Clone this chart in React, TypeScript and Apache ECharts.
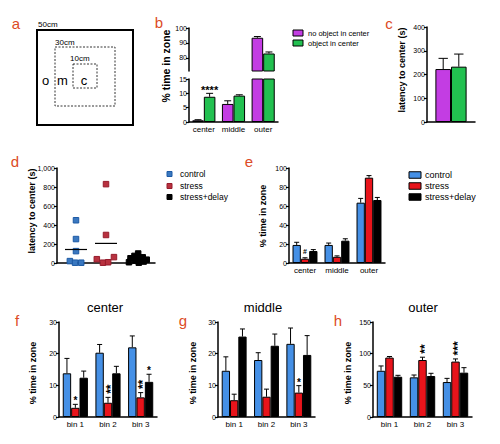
import React, { useEffect, useRef } from 'react';
import * as echarts from 'echarts';

const FONT = "'Liberation Sans', Arial, Helvetica, sans-serif";
const PANEL_LABEL_COLOR = '#dc4b26';

// ---------- panel b / c ----------
const zoneCategories = ['center', 'middle', 'outer'];
const bNoObject = [0.6, 6.3, 93.5];
const bNoObjectErr = [0.2, 1.1, 0.8];
const bObject = [8.8, 9.2, 83];
const bObjectErr = [1.2, 0.3, 1.0];
const bObjectStars = ['****', '', ''];
const bTopTicks = [80, 90, 100];
const bTopMin = 71.3;
const cNoObject = [223];
const cNoObjectErr = [45];
const cObject = [233];
const cObjectErr = [53];
const cCategory = [''];

// ---------- panel d ----------
const dGroupNames = ['control', 'stress', 'stress+delay'];
const dGroupX = [0.62, 1.6, 2.65];
const dControl = [450, 252, 125, 20, 3, 3];
const dControlJitter = [0, 0, 0, -0.2, -0.03, 0.17];
const dStress = [830, 295, 40, 3, 8, 62];
const dStressJitter = [0, 0, -0.3, -0.1, 0.07, 0.26];
const dDelay = [100, 75, 60, 50, 40, 35, 25, 15, 8, 3];
const dDelayJitter = [0, -0.12, 0.15, -0.25, 0.05, 0.28, -0.1, 0.18, -0.3, 0.02];

// ---------- panel e ----------
const eControl = [19, 19, 63.5];
const eControlErr = [2.8, 2, 4.5];
const eStress = [4.5, 6.5, 89.8];
const eStressErr = [1, 1, 2.2];
const eStressMarks = ['#', '', ''];
const eDelay = [12.6, 23.5, 66.3];
const eDelayErr = [1.5, 2, 2.7];

// ---------- panels f, g, h ----------
const bins = ['bin 1', 'bin 2', 'bin 3'];
const fControl = [13.8, 20.3, 22];
const fControlErr = [4.7, 2.6, 3.6];
const fStress = [2.9, 4.5, 6.2];
const fStressErr = [1.1, 1.7, 1.5];
const fStressStars = ['*', '**', '**'];
const fDelay = [12.4, 13.8, 11.1];
const fDelayErr = [2.1, 2.2, 2.4];
const fDelayStars = ['', '', '*'];

const gControl = [14.6, 18, 23.1];
const gControlErr = [4.4, 2.3, 5];
const gStress = [5.3, 6.4, 7.7];
const gStressErr = [1.9, 2.4, 2.2];
const gStressStars = ['', '', '*'];
const gDelay = [25.4, 22.5, 19.6];
const gDelayErr = [2.4, 3.7, 6.1];

const hControl = [73, 62.6, 55.2];
const hControlErr = [7.6, 3.7, 5.8];
const hStress = [93.8, 90, 87.5];
const hStressErr = [1.7, 4.4, 4.2];
const hStressStars = ['', '**', '***'];
const hDelay = [63.6, 64.7, 70];
const hDelayErr = [2.2, 4.3, 7.9];

const PURPLE = '#c33de3';
const GREEN = '#22c050';
const BLUE = '#4590e6';
const RED = '#e8141b';
const BLACK = '#000000';
const D_BLUE = '#3a78c0';
const D_BLUE_B = '#1d5aa5';
const D_RED = '#b8313f';
const D_RED_B = '#961c2c';

const mean = (a: number[]) => a.reduce((s, v) => s + v, 0) / a.length;

type BarSpec = {
  name: string;
  color: string;
  values: number[];
  errs: number[];
  stars?: string[];
  vertical?: boolean;
  starSize?: number;
};

type StarJob = {
  gi: number;
  ci: number;
  top: number;
  si: number;
  n: number;
  catGap: number;
  nCats: number;
  str: string;
  vertical: boolean;
  size: number;
};

const starJobs: StarJob[] = [];

function groupedBars(gi: number, specs: BarSpec[], catGap: number, nCats: number, minVisible?: number) {
  const n = specs.length;
  const series: any[] = [];
  specs.forEach((s) => {
    series.push({
      type: 'bar',
      name: s.name,
      xAxisIndex: gi,
      yAxisIndex: gi,
      data: s.values.map((v) => (minVisible != null && v < minVisible ? '-' : v)),
      barGap: '0%',
      barCategoryGap: `${catGap * 100}%`,
      itemStyle: { color: s.color, borderColor: '#000', borderWidth: 1 },
      silent: true,
      clip: true,
    });
  });
  specs.forEach((s, si) => {
    if (s.stars && minVisible == null) {
      s.stars.forEach((str, ci) => {
        if (str) {
          starJobs.push({
            gi, ci, top: s.values[ci] + s.errs[ci], si, n, catGap, nCats, str,
            vertical: !!s.vertical, size: s.starSize || 10,
          });
        }
      });
    }
    series.push({
      type: 'custom',
      xAxisIndex: gi,
      yAxisIndex: gi,
      clip: true,
      silent: true,
      z: 5,
      data: s.values.map((v, i) => [i, v, s.errs[i]]),
      renderItem: (params: any, api: any) => {
        const ci = api.value(0);
        const v = api.value(1);
        const e = api.value(2);
        if (minVisible != null && v < minVisible) return null;
        const band = api.size([1, 0])[0];
        const total = band * (1 - catGap);
        const bw = total / n;
        const p0 = api.coord([ci, v]);
        const p1 = api.coord([ci, v + e]);
        const x = p0[0] - total / 2 + bw * (si + 0.5);
        const cap = Math.max(2, bw * 0.3);
        const ls = { stroke: '#000', lineWidth: 1 };
        return {
          type: 'group',
          children: [
            { type: 'line', shape: { x1: x, y1: p0[1], x2: x, y2: p1[1] }, style: ls },
            { type: 'line', shape: { x1: x - cap, y1: p1[1], x2: x + cap, y2: p1[1] }, style: ls },
          ],
        };
      },
    });
  });
  return series;
}

const axisLineStyle = { color: '#000', width: 1.5 };

function yAxisV(gi: number, min: number, max: number, interval: number, extra: any = {}) {
  return {
    type: 'value',
    gridIndex: gi,
    min,
    max,
    interval,
    axisLine: { show: true, lineStyle: axisLineStyle },
    axisTick: { show: true, inside: false, length: 3, lineStyle: { color: '#000', width: 1.2 } },
    axisLabel: { show: true, fontSize: 7, color: '#000', fontFamily: FONT, margin: 2 },
    splitLine: { show: false },
    ...extra,
  };
}

function xAxisCat(gi: number, data: string[], show = true) {
  return {
    type: 'category',
    gridIndex: gi,
    data,
    boundaryGap: true,
    axisLine: { show, onZero: false, lineStyle: axisLineStyle },
    axisTick: { show: false },
    axisLabel: { show, interval: 0, hideOverlap: false, fontSize: 8, color: '#000', fontFamily: FONT, margin: 3 },
    splitLine: { show: false },
  };
}

function grid(left: number, top: number, width: number, height: number) {
  return { left, top, width, height, containLabel: false, outerBoundsMode: 'none' };
}

function txt(text: string, x: number, y: number, size: number, opt: any = {}) {
  return {
    type: 'text',
    x,
    y,
    rotation: opt.rotation || 0,
    silent: true,
    z: opt.z || 10,
    style: {
      text,
      x: 0,
      y: 0,
      fontSize: size,
      fontFamily: FONT,
      fontWeight: opt.bold ? 'bold' : 'normal',
      fill: opt.color || '#000',
      align: opt.align || 'center',
      verticalAlign: 'middle',
    },
  };
}

function legendRect(x: number, y: number, w: number, h: number, color: string, border = '#000') {
  return {
    type: 'rect',
    silent: true,
    shape: { x, y: y - h / 2, width: w, height: h },
    style: { fill: color, stroke: border, lineWidth: 1 },
  };
}

export default function App() {
  const ref = useRef<HTMLDivElement>(null);

  useEffect(() => {
    if (!ref.current) return;
    const chart = echarts.init(ref.current, undefined, { renderer: 'svg' });
    starJobs.length = 0;

    const grids = [
      grid(189, 28, 89, 43), // 0 b top
      grid(189, 79, 89, 43), // 1 b bottom
      grid(427, 27, 48, 95), // 2 c
      grid(57, 168, 98, 95), // 3 d
      grid(289, 168, 96, 95), // 4 e
      grid(59, 322, 98, 95), // 5 f
      grid(218, 322, 97, 95), // 6 g
      grid(373, 322, 99, 95), // 7 h
    ];

    const xAxes = [
      xAxisCat(0, zoneCategories, false),
      xAxisCat(1, zoneCategories, true),
      xAxisCat(2, cCategory, true),
      {
        type: 'value',
        gridIndex: 3,
        min: 0,
        max: 3.2,
        axisLine: { show: true, onZero: false, lineStyle: axisLineStyle },
        axisTick: { show: false },
        axisLabel: { show: false },
        splitLine: { show: false },
      },
      xAxisCat(4, zoneCategories, true),
      xAxisCat(5, bins, true),
      xAxisCat(6, bins, true),
      xAxisCat(7, bins, true),
    ];

    const yAxes = [
      yAxisV(0, bTopMin, 100, 10, {
        axisLabel: { show: true, fontSize: 7, color: '#000', fontFamily: FONT, margin: 2, customValues: bTopTicks },
        axisTick: { show: true, length: 3, lineStyle: { color: '#000', width: 1.2 }, customValues: bTopTicks },
      }),
      yAxisV(1, 0, 15, 5),
      yAxisV(2, 0, 400, 100),
      yAxisV(3, 0, 1000, 200),
      yAxisV(4, 0, 100, 20),
      yAxisV(5, 0, 30, 10),
      yAxisV(6, 0, 30, 10),
      yAxisV(7, 0, 150, 50),
    ];

    const bSpecs: BarSpec[] = [
      { name: 'no object in center', color: PURPLE, values: bNoObject, errs: bNoObjectErr },
      { name: 'object in center', color: GREEN, values: bObject, errs: bObjectErr, stars: bObjectStars, starSize: 11 },
    ];
    const cSpecs: BarSpec[] = [
      { name: 'no object in center', color: PURPLE, values: cNoObject, errs: cNoObjectErr },
      { name: 'object in center', color: GREEN, values: cObject, errs: cObjectErr },
    ];
    const eSpecs: BarSpec[] = [
      { name: 'control', color: BLUE, values: eControl, errs: eControlErr },
      { name: 'stress', color: RED, values: eStress, errs: eStressErr, stars: eStressMarks, starSize: 7 },
      { name: 'stress+delay', color: BLACK, values: eDelay, errs: eDelayErr },
    ];
    const fSpecs: BarSpec[] = [
      { name: 'control', color: BLUE, values: fControl, errs: fControlErr },
      { name: 'stress', color: RED, values: fStress, errs: fStressErr, stars: fStressStars, vertical: true },
      { name: 'stress+delay', color: BLACK, values: fDelay, errs: fDelayErr, stars: fDelayStars, vertical: true },
    ];
    const gSpecs: BarSpec[] = [
      { name: 'control', color: BLUE, values: gControl, errs: gControlErr },
      { name: 'stress', color: RED, values: gStress, errs: gStressErr, stars: gStressStars, vertical: true },
      { name: 'stress+delay', color: BLACK, values: gDelay, errs: gDelayErr },
    ];
    const hSpecs: BarSpec[] = [
      { name: 'control', color: BLUE, values: hControl, errs: hControlErr },
      { name: 'stress', color: RED, values: hStress, errs: hStressErr, stars: hStressStars, vertical: true },
      { name: 'stress+delay', color: BLACK, values: hDelay, errs: hDelayErr },
    ];

    const dGroups = [
      { name: dGroupNames[0], values: dControl, jitter: dControlJitter, color: D_BLUE, border: D_BLUE_B },
      { name: dGroupNames[1], values: dStress, jitter: dStressJitter, color: D_RED, border: D_RED_B },
      { name: dGroupNames[2], values: dDelay, jitter: dDelayJitter, color: '#000', border: '#000' },
    ];

    const dSeries: any[] = dGroups.map((g, gi) => ({
      type: 'scatter',
      name: g.name,
      xAxisIndex: 3,
      yAxisIndex: 3,
      symbol: 'rect',
      symbolSize: 5.5,
      itemStyle: { color: g.color, borderColor: g.border, borderWidth: 1, opacity: 1 },
      data: g.values.map((v, i) => [dGroupX[gi] + g.jitter[i], v]),
      silent: true,
      z: 3,
    }));
    dSeries.push({
      type: 'custom',
      xAxisIndex: 3,
      yAxisIndex: 3,
      silent: true,
      z: 4,
      data: dGroups.map((g, gi) => [dGroupX[gi], mean(g.values)]),
      renderItem: (params: any, api: any) => {
        const p = api.coord([api.value(0), api.value(1)]);
        return {
          type: 'line',
          shape: { x1: p[0] - 11, y1: p[1], x2: p[0] + 11, y2: p[1] },
          style: { stroke: '#000', lineWidth: 1.2 },
        };
      },
    });

    const series = [
      ...groupedBars(0, bSpecs, 0.22, 3, bTopMin),
      ...groupedBars(1, bSpecs, 0.22, 3),
      ...groupedBars(2, cSpecs, 0.35, 1),
      ...dSeries,
      ...groupedBars(4, eSpecs, 0.22, 3),
      ...groupedBars(5, fSpecs, 0.23, 3),
      ...groupedBars(6, gSpecs, 0.23, 3),
      ...groupedBars(7, hSpecs, 0.23, 3),
    ];

    const graphic: any[] = [
      // panel letters
      txt('a', 16, 23, 15, { color: PANEL_LABEL_COLOR }),
      txt('b', 159, 22, 15, { color: PANEL_LABEL_COLOR }),
      txt('c', 389, 23, 15, { color: PANEL_LABEL_COLOR }),
      txt('d', 15, 161, 15, { color: PANEL_LABEL_COLOR }),
      txt('e', 249, 161, 15, { color: PANEL_LABEL_COLOR }),
      txt('f', 17, 320, 15, { color: PANEL_LABEL_COLOR }),
      txt('g', 183, 320, 15, { color: PANEL_LABEL_COLOR }),
      txt('h', 338, 320, 15, { color: PANEL_LABEL_COLOR }),
      // panel a: arena schematic
      { type: 'rect', silent: true, shape: { x: 37, y: 30, width: 96, height: 95 }, style: { fill: 'none', stroke: '#000', lineWidth: 2 } },
      { type: 'rect', silent: true, shape: { x: 55, y: 47, width: 60, height: 59 }, style: { fill: 'none', stroke: '#000', lineWidth: 0.8, lineDash: [2, 1.5] } },
      { type: 'rect', silent: true, shape: { x: 73, y: 64, width: 24, height: 24 }, style: { fill: 'none', stroke: '#000', lineWidth: 0.8, lineDash: [2, 1.5] } },
      txt('50cm', 38, 24, 8, { align: 'left' }),
      txt('30cm', 55, 42, 8, { align: 'left' }),
      txt('10cm', 70, 58, 8, { align: 'left' }),
      txt('o', 45.5, 80, 13),
      txt('m', 62.5, 80, 13),
      txt('c', 84, 80, 13),
      // y-axis titles
      txt('% time in zone', 166, 66, 10.5, { bold: true, rotation: Math.PI / 2 }),
      txt('latency to center (s)', 402, 70, 9, { bold: true, rotation: Math.PI / 2 }),
      txt('latency to center (s)', 32, 211, 9, { bold: true, rotation: Math.PI / 2 }),
      txt('% time in zone', 263, 216, 9, { bold: true, rotation: Math.PI / 2 }),
      txt('% time in zone', 33, 373, 9, { bold: true, rotation: Math.PI / 2 }),
      txt('% time in zone', 193, 373, 9, { bold: true, rotation: Math.PI / 2 }),
      txt('% time in zone', 348, 373, 9, { bold: true, rotation: Math.PI / 2 }),
      // titles of f, g, h
      txt('center', 105, 307, 13),
      txt('middle', 263, 307, 13),
      txt('outer', 423, 307, 13),
      // legend b
      legendRect(293, 33, 10, 6, PURPLE),
      txt('no object in center', 308, 33, 7.5, { align: 'left' }),
      legendRect(293, 43, 10, 6, GREEN),
      txt('object in center', 308, 43, 7.5, { align: 'left' }),
      // legend d
      legendRect(167, 174, 5, 5, D_BLUE, D_BLUE_B),
      txt(dGroupNames[0], 180, 174, 8.5, { align: 'left' }),
      legendRect(167, 186, 5, 5, D_RED, D_RED_B),
      txt(dGroupNames[1], 180, 186, 8.5, { align: 'left' }),
      legendRect(167, 197, 5, 5, '#000'),
      txt(dGroupNames[2], 180, 197, 8.5, { align: 'left' }),
      // legend e
      legendRect(409, 175, 12, 6.5, BLUE),
      txt('control', 425, 175, 9, { align: 'left' }),
      legendRect(409, 186, 12, 6.5, RED),
      txt('stress', 425, 186, 9, { align: 'left' }),
      legendRect(409, 197, 12, 6.5, BLACK),
      txt('stress+delay', 425, 197, 9, { align: 'left' }),
    ];

    chart.setOption({
      animation: false,
      backgroundColor: '#ffffff',
      textStyle: { fontFamily: FONT },
      grid: grids,
      xAxis: xAxes,
      yAxis: yAxes,
      series,
      graphic,
    });

    // significance marks, placed through the chart's own scales
    const marks: any[] = [];
    starJobs.forEach((j) => {
      const p = chart.convertToPixel({ gridIndex: j.gi }, [j.ci, j.top]) as number[];
      if (!p) return;
      const band = grids[j.gi].width / j.nCats;
      const total = band * (1 - j.catGap);
      const bw = total / j.n;
      const x = p[0] - total / 2 + bw * (j.si + 0.5);
      const isStar = j.str[0] === '*';
      if (j.vertical && j.str.length > 1) {
        const vs = 12;
        const len = j.str.length * vs * 0.389;
        marks.push(txt(j.str, x + vs * 0.23, p[1] - 3.5 - len / 2, vs, { bold: true, rotation: Math.PI / 2 }));
      } else {
        const adj = isStar ? j.size * 0.25 : 0;
        marks.push(txt(j.str, x, p[1] - 6 + adj, j.size, { bold: true }));
      }
    });
    chart.setOption({ graphic: [...graphic, ...marks] });

    return () => chart.dispose();
  }, []);

  return (
    <div
      ref={ref}
      style={{ position: 'fixed', left: 0, top: 0, width: 500, height: 444, background: '#fff' }}
    />
  );
}
